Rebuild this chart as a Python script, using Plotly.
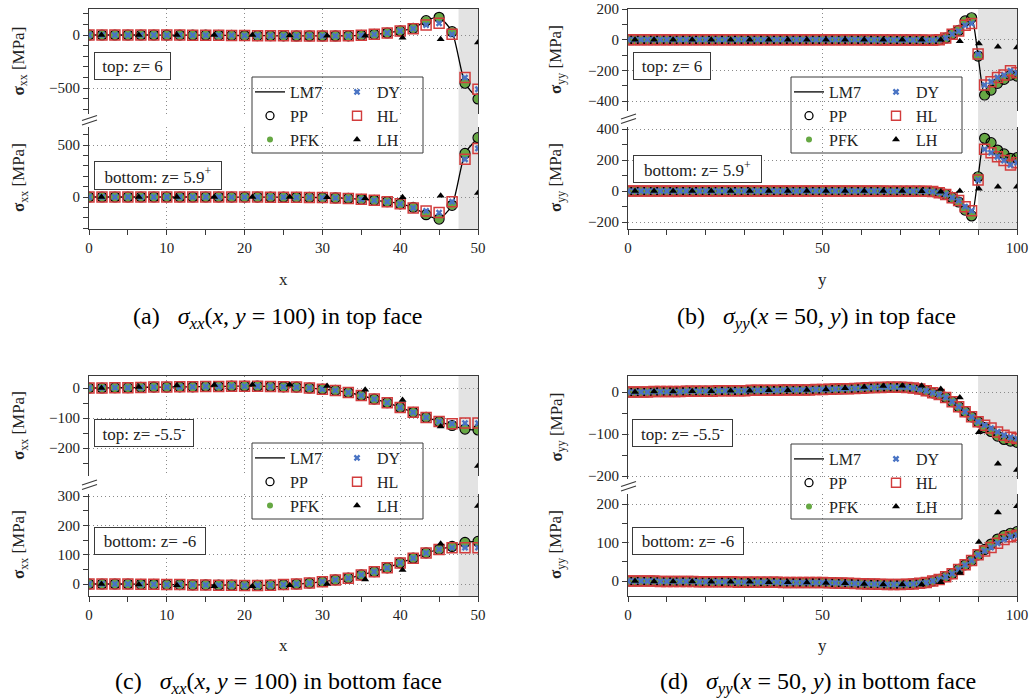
import plotly.graph_objects as go

W, H = 1036, 698
FONT = "Liberation Serif"

# ---------------- data ----------------
series_names = ["LM7", "PP", "PFK", "DY", "HL", "LH"]

x_ac = [0, 1.67, 3.33, 5, 6.67, 8.33, 10, 11.67, 13.33, 15, 16.67, 18.33, 20, 21.67, 23.33, 25,
        26.67, 28.33, 30, 31.67, 33.33, 35, 36.67, 38.33, 40, 41.67, 43.33, 45, 46.67, 48.33, 50]
x_bd = [0, 1.67, 3.33, 5, 6.67, 8.33, 10, 11.67, 13.33, 15, 16.67, 18.33, 20, 21.67, 23.33, 25,
        26.67, 28.33, 30, 31.67, 33.33, 35, 36.67, 38.33, 40, 41.67, 43.33, 45, 46.67, 48.33, 50,
        51.67, 53.33, 55, 56.67, 58.33, 60, 61.67, 63.33, 65, 66.67, 68.33, 70, 71.67, 73.33, 75,
        76.67, 78.33, 80, 81.67, 83.33, 85, 86.67, 88.33, 90, 91.67, 93.33, 95, 96.67, 98.33, 100]
x_lh_ac = [1.6, 6.4, 11.3, 16.1, 21.0, 25.8, 30.6, 35.5, 40.3, 45.2, 50.0]
x_lh_bd = [1.8, 6.7, 11.6, 16.5, 21.4, 26.4, 31.3, 36.2, 41.1, 46.0, 50.9, 55.8, 60.7, 65.6,
           70.5, 75.5, 80.4, 85.3, 90.2, 95.1, 100.0]

# (a) sigma_xx top face -- LM7 / PP / PFK coincide, DY / HL coincide
a_top_pp = [0, 0, 0, 0, 0, 0, -1, -1, -2, -2, -3, -4, -5, -6, -7, -8, -9, -9, -9, -9, -8, -3, 6, 19,
            38, 63, 135, 167, 31, -455, -603]
a_top_hl = [0, 0, 0, 0, 0, 0, -1, -1, -2, -2, -3, -4, -5, -6, -7, -8, -9, -9, -9, -9, -8, -3, 6, 19,
            38, 60, 94, 110, 6, -402, -512]
a_top_lh = [0, 0, 0, 0, 0, -5, -6, -6, -25, -41, -70]
a_bot_pp = [0, 0, 0, 0, 0, 0, 0, 0, 0, 0, 0, -1, -1, -1, -2, -2, -3, -4, -6, -9, -14, -22, -32, -45,
            -66, -100, -170, -212, -80, 419, 570]
a_bot_hl = [0, 0, 0, 0, 0, 0, 0, 0, 0, 0, 0, -1, -1, -1, -2, -2, -3, -4, -6, -9, -14, -22, -32, -45,
            -66, -105, -134, -150, -45, 362, 467]
a_bot_lh = [0, 0, 0, 0, 0, -1, -3, -12, -3, 13, 38]

# (b) sigma_yy top face
b_top_pp = [0, 0, 0, 0, 0, 0, 0, 0, 0, 0, 0, 0, 0, 0, 0, 0, 0, 0, 0, 0, 0, 0, 0, 0, 0, 0, 0, 0, 0, 0,
            0, 0, 0, 0, 0, 0, -1, -1, -1, -2, -2, -2, -2, -2, -2, -2, -3, -3, 0, 11, 36, 60, 122, 143,
            -107, -361, -329, -285, -259, -231, -238]
b_top_hl = [0, 0, 0, 0, 0, 0, 0, 0, 0, 0, 0, 0, 0, 0, 0, 0, 0, 0, 0, 0, 0, 0, 0, 0, 0, 0, 0, 0, 0, 0,
            0, 0, 0, 0, 0, 0, -1, -1, -1, -2, -2, -2, -2, -2, -2, -2, -3, -3, 0, 11, 36, 56, 94, 105,
            -94, -296, -274, -246, -231, -203, -216]
b_top_lh = [0, 0, 0, 0, 0, 0, 0, 0, 0, 0, 0, 0, 0, -1, -1, -1, 0, -10, -25, -47, -51]
b_bot_pp = [0, 0, 0, 0, 0, 0, 0, 0, 0, 0, 0, 0, 0, 0, 0, 0, 0, 0, 0, 0, 0, 0, 0, 0, 0, 0, 0, 0, 0, 0,
            0, 0, 0, 0, 0, 0, 0, 0, 0, 0, -1, -1, -1, -1, -1, -1, -2, -4, -11, -22, -43, -71, -123, -161,
            92, 340, 312, 264, 239, 211, 215]
b_bot_hl = [0, 0, 0, 0, 0, 0, 0, 0, 0, 0, 0, 0, 0, 0, 0, 0, 0, 0, 0, 0, 0, 0, 0, 0, 0, 0, 0, 0, 0, 0,
            0, 0, 0, 0, 0, 0, 0, 0, 0, 0, -1, -1, -1, -1, -1, -1, -2, -4, -11, -22, -43, -62, -101, -127,
            71, 269, 247, 221, 196, 168, 183]
b_bot_lh = [0, 0, 0, 0, 0, 0, 0, 0, 0, 0, 0, 0, 0, 0, 0, -1, -5, 0, 15, 27, 27]

# (c) sigma_xx bottom face
c_top_pp = [0, 0, 1, 1, 2, 3, 3, 4, 4, 5, 5, 6, 6, 6, 5, 4, 3, 0, -4, -8, -15, -25, -37, -49, -65,
            -81, -98, -112, -125, -137, -140]
c_top_hl = [0, 0, 1, 1, 2, 3, 3, 4, 4, 5, 5, 6, 6, 6, 5, 4, 3, 0, -4, -8, -15, -25, -37, -49, -65,
            -81, -98, -112, -119, -117, -117]
c_top_lh = [0, 3, 8, 10, 11, 11, 7, -6, -40, -128, -260]
c_bot_pp = [0, 0, 0, 0, -1, -1, -2, -2, -3, -3, -4, -4, -5, -5, -4, -2, 0, 3, 8, 14, 20, 31, 42, 55,
            72, 88, 106, 118, 128, 142, 145]
c_bot_hl = [0, 0, 0, 0, -1, -1, -2, -2, -3, -3, -4, -4, -5, -5, -4, -2, 0, 3, 8, 14, 20, 31, 42, 55,
            72, 88, 106, 118, 124, 124, 124]
c_bot_lh = [0, -2, -4, -8, -8, -4, 0, 15, 48, 137, 266]

# (d) sigma_yy bottom face
d_top_pp = [0, 0, 0, 0, 1, 1, 1, 1, 1, 2, 2, 2, 2, 2, 3, 3, 3, 3, 3, 4, 4, 4, 4, 4, 5, 5, 5, 5, 5, 6,
            6, 6.5, 7, 7.5, 8, 8.5, 9, 10, 10.5, 11, 11.5, 11.5, 11.5, 11, 9.5, 7, 3, -2, -6, -13, -23,
            -35, -47, -59, -71, -85, -94, -105, -113, -117, -120]
d_top_hl = [0, 0, 0, 0, 1, 1, 1, 1, 1, 2, 2, 2, 2, 2, 3, 3, 3, 3, 3, 4, 4, 4, 4, 4, 5, 5, 5, 5, 5, 6,
            6, 6.5, 7, 7.5, 8, 8.5, 9, 10, 10.5, 11, 11.5, 11.5, 11.5, 11, 9.5, 7, 3, -2, -6, -13, -23,
            -35, -47, -59, -71, -79, -86, -95, -103, -108, -111]
d_top_lh = [0, 1, 1, 2, 2, 3, 3, 4, 4, 5, 6, 9, 12, 14, 15, 15, 7, -13, -96, -171, -186]
d_bot_pp = [0, 0, 0, 0, 0, -1, -1, -1, -1, -1, -1, -2, -2, -2, -2, -2, -2, -3, -3, -3, -3, -3, -3, -3,
            -4, -4, -4, -4, -4, -4, -4, -4.5, -5, -5.5, -6, -6.5, -7, -7.5, -8, -8.5, -9, -9, -9, -8.5,
            -7.5, -6, -4, 0, 4, 11, 19, 30, 42, 53, 68, 82, 96, 109, 118, 124, 128]
d_bot_hl = [0, 0, 0, 0, 0, -1, -1, -1, -1, -1, -1, -2, -2, -2, -2, -2, -2, -3, -3, -3, -3, -3, -3, -3,
            -4, -4, -4, -4, -4, -4, -4, -4.5, -5, -5.5, -6, -6.5, -7, -7.5, -8, -8.5, -9, -9, -9, -8.5,
            -7.5, -6, -4, 0, 4, 11, 19, 30, 42, 53, 68, 78, 87, 98, 108, 115, 119]
d_bot_lh = [0, -1, -1, -1, -2, -2, -2, -3, -3, -4, -5, -6, -8, -9, -9, -9, -3, 21, 101, 178, 194]

SP = "&nbsp;"
captions = [
    f"(a){SP}{SP} <i>σ<sub>xx</sub></i>(<i>x</i>,{SP}<i>y</i>{SP}={SP}100) in top face",
    f"(b){SP}{SP} <i>σ<sub>yy</sub></i>(<i>x</i>{SP}={SP}50,{SP}<i>y</i>) in top face",
    f"(c){SP}{SP} <i>σ<sub>xx</sub></i>(<i>x</i>,{SP}<i>y</i>{SP}={SP}100) in bottom face",
    f"(d){SP}{SP} <i>σ<sub>yy</sub></i>(<i>x</i>{SP}={SP}50,{SP}<i>y</i>) in bottom face",
]
face_labels = [
    ("top: z= 6", "bottom: z= 5.9<sup>+</sup>"),
    ("top: z= 6", "bottom: z= 5.9<sup>+</sup>"),
    ("top: z= -5.5<sup>-</sup>", "bottom: z= -6"),
    ("top: z= -5.5<sup>-</sup>", "bottom: z= -6"),
]
y_titles = ["<b>σ</b><sub>xx</sub> [MPa]", "<b>σ</b><sub>yy</sub> [MPa]",
            "<b>σ</b><sub>xx</sub> [MPa]", "<b>σ</b><sub>yy</sub> [MPa]"]
x_titles = ["x", "y", "x", "y"]

panel_data = [
    (x_ac, x_lh_ac, (a_top_pp, a_top_hl, a_top_lh), (a_bot_pp, a_bot_hl, a_bot_lh)),
    (x_bd, x_lh_bd, (b_top_pp, b_top_hl, b_top_lh), (b_bot_pp, b_bot_hl, b_bot_lh)),
    (x_ac, x_lh_ac, (c_top_pp, c_top_hl, c_top_lh), (c_bot_pp, c_bot_hl, c_bot_lh)),
    (x_bd, x_lh_bd, (d_top_pp, d_top_hl, d_top_lh), (d_bot_pp, d_bot_hl, d_bot_lh)),
]

# ---------------- layout (pixel geometry) ----------------
panels = [
    dict(xpx=(89, 478), xr=(0, 50), xd=10, xm=5, shade=(47.5, 50),
         top=dict(dom=(9, 114), cal=((0, 35), (-500, 88)), d=500, m=100),
         bot=dict(dom=(127, 229), cal=((500, 145), (0, 197)), d=500, m=100),
         ytx=20, xty=279, leg=(252, 77, 423, 153),
         lab=((94, 52, 171, 80), (94, 161, 222, 190)), cap=(278, 318)),
    dict(xpx=(628, 1017), xr=(0, 100), xd=50, xm=10, shade=(90, 100),
         top=dict(dom=(9, 111), cal=((200, 9), (-400, 101)), d=200, m=100),
         bot=dict(dom=(127, 229), cal=((400, 129), (-200, 222)), d=200, m=100),
         ytx=557, xty=279, leg=(791, 77, 962, 153),
         lab=((633, 52, 711, 80), (633, 155, 762, 183)), cap=(816, 318)),
    dict(xpx=(89, 478), xr=(0, 50), xd=10, xm=5, shade=(47.5, 50),
         top=dict(dom=(376, 476), cal=((0, 388), (-200, 448)), d=100, m=50),
         bot=dict(dom=(494, 596), cal=((300, 496), (0, 584)), d=100, m=50),
         ytx=20, xty=645, leg=(252, 443, 423, 519),
         lab=((94, 419, 194, 447), (94, 527, 206, 555)), cap=(278, 683)),
    dict(xpx=(628, 1017), xr=(0, 100), xd=50, xm=10, shade=(90, 100),
         top=dict(dom=(376, 479), cal=((0, 392), (-200, 476)), d=100, m=50),
         bot=dict(dom=(494, 596), cal=((200, 504), (0, 581)), d=100, m=50),
         ytx=557, xty=645, leg=(791, 444, 962, 519),
         lab=((632, 419, 733, 447), (632, 527, 744, 555)), cap=(818, 683)),
]

GREEN = "#66a843"
BLUE = "#4a74c4"
RED = "#d23c3c"
AXC = "#3a3a3a"
GRIDC = "#8a8a8a"


def px(p):
    return p / W


def py(p):
    return 1 - p / H


def yrange(cal, dom):
    (v1, p1), (v2, p2) = cal
    k = (v1 - v2) / (p2 - p1)
    top, bot = dom
    return [v1 - (bot - p1) * k, v1 + (p1 - top) * k]


fig = go.Figure()
layout = dict(width=W, height=H, margin=dict(l=0, r=0, t=0, b=0, autoexpand=False), autosize=False,
              paper_bgcolor="white", plot_bgcolor="white", showlegend=True,
              font=dict(family=FONT, size=15, color="#222"))
shapes = []
annotations = []

tickfont = dict(family=FONT, size=15, color="#222")


def add_traces(xax, yax, xs, xlh, pp, hl, lh):
    common = dict(xaxis=xax, yaxis=yax, showlegend=False, hoverinfo="skip")
    fig.add_trace(go.Scatter(x=xs, y=pp, mode="lines", name="LM7",
                             line=dict(color="black", width=1.3, shape="spline", smoothing=0.6), **common))
    fig.add_trace(go.Scatter(x=xs, y=pp, mode="markers", name="PFK",
                             marker=dict(symbol="circle", size=9, color=GREEN, line=dict(width=0)), **common))
    fig.add_trace(go.Scatter(x=xs, y=pp, mode="markers", name="PP",
                             marker=dict(symbol="circle-open", size=10, color="black",
                                         line=dict(width=1.2, color="black")), **common))
    fig.add_trace(go.Scatter(x=xs, y=hl, mode="markers", name="HL",
                             marker=dict(symbol="square-open", size=10, color=RED,
                                         line=dict(width=1.5, color=RED)), **common))
    fig.add_trace(go.Scatter(x=xs, y=hl, mode="markers", name="DY",
                             marker=dict(symbol="x", size=6, color=BLUE, line=dict(width=0)), **common))
    fig.add_trace(go.Scatter(x=xlh, y=lh, mode="markers", name="LH",
                             marker=dict(symbol="triangle-up", size=7, color="black", line=dict(width=0)),
                             **common))


legend_styles = {
    "LM7": dict(mode="lines", line=dict(color="black", width=1.3)),
    "PP": dict(mode="markers", marker=dict(symbol="circle-open", size=8, color="black",
                                           line=dict(width=1.3, color="black"))),
    "PFK": dict(mode="markers", marker=dict(symbol="circle", size=6, color=GREEN)),
    "DY": dict(mode="markers", marker=dict(symbol="x", size=6, color=BLUE, line=dict(width=0))),
    "HL": dict(mode="markers", marker=dict(symbol="square-open", size=9, color=RED,
                                           line=dict(width=1.4, color=RED))),
    "LH": dict(mode="markers", marker=dict(symbol="triangle-up", size=7, color="black")),
}

for p, (pan, (xs, xlh, topd, botd)) in enumerate(zip(panels, panel_data)):
    it, ib = 2 * p + 1, 2 * p + 2
    xdom = [px(pan["xpx"][0]), px(pan["xpx"][1])]
    for i, sub, data, is_top in ((it, pan["top"], topd, True), (ib, pan["bot"], botd, False)):
        xk = "xaxis" if i == 1 else f"xaxis{i}"
        yk = "yaxis" if i == 1 else f"yaxis{i}"
        xa = "x" if i == 1 else f"x{i}"
        ya = "y" if i == 1 else f"y{i}"
        dom = sub["dom"]
        layout[xk] = dict(domain=xdom, anchor=ya, range=list(pan["xr"]), side="top" if is_top else "bottom",
                          showline=True, linecolor=AXC, linewidth=1, mirror=False,
                          showgrid=True, gridcolor=GRIDC, griddash="1px,3px", gridwidth=1,
                          zeroline=False, tickmode="linear", tick0=0, dtick=pan["xd"],
                          ticks="" if is_top else "outside", ticklen=5, tickcolor=AXC,
                          showticklabels=not is_top, tickfont=tickfont,
                          minor=dict(dtick=pan["xm"], tick0=0, ticks="" if is_top else "outside",
                                     ticklen=5, tickcolor=AXC, showgrid=False))
        layout[yk] = dict(domain=[py(dom[1]), py(dom[0])], anchor=xa, range=yrange(sub["cal"], dom),
                          showline=True, linecolor=AXC, linewidth=1, mirror=True,
                          showgrid=True, gridcolor=GRIDC, griddash="1px,3px", gridwidth=1,
                          zeroline=False, tickmode="linear", tick0=0, dtick=sub["d"],
                          ticks="outside", ticklen=5, tickcolor=AXC, tickfont=tickfont,
                          minor=dict(dtick=sub["m"], tick0=0, ticks="outside", ticklen=5,
                                     tickcolor=AXC, showgrid=False))
        pp, hl, lh = data
        add_traces(xa, ya, xs, xlh, pp, hl, lh)
        # y-axis title
        annotations.append(dict(text=y_titles[p], x=px(pan["ytx"]), y=py((dom[0] + dom[1]) / 2),
                                xref="paper", yref="paper", xanchor="center", yanchor="middle",
                                textangle=-90, showarrow=False,
                                font=dict(family=FONT, size=17, color="#222")))

    # shaded region across both sub-plots
    xb = "x" if ib == 1 else f"x{ib}"
    shapes.append(dict(type="rect", xref=xb, yref="paper", x0=pan["shade"][0], x1=pan["shade"][1],
                       y0=py(pan["bot"]["dom"][1]), y1=py(pan["top"]["dom"][0]),
                       fillcolor="#e3e3e3", line=dict(width=0), layer="below"))
    # axis break marks
    yc = (pan["top"]["dom"][1] + pan["bot"]["dom"][0]) / 2
    ax0 = pan["xpx"][0]
    for off in (-2.5, 2.0):
        shapes.append(dict(type="line", xref="paper", yref="paper",
                           x0=px(ax0 - 7), y0=py(yc + off + 2.5), x1=px(ax0 + 8), y1=py(yc + off - 2.5),
                           line=dict(color=AXC, width=1.1), layer="above"))
    # legend frame
    lx0, ly0, lx1, ly1 = pan["leg"]
    shapes.append(dict(type="rect", xref="paper", yref="paper", x0=px(lx0), x1=px(lx1),
                       y0=py(ly1), y1=py(ly0), line=dict(color=AXC, width=1), layer="above"))
    # legends: two columns
    for c, names in enumerate((("LM7", "PP", "PFK"), ("DY", "HL", "LH"))):
        li = 2 * p + c + 1
        lname = "legend" if li == 1 else f"legend{li}"
        lx = lx0 - 2 if c == 0 else lx0 + 85
        layout[lname] = dict(x=px(lx), y=py(ly0 - 2), xanchor="left", yanchor="top",
                             bgcolor="rgba(0,0,0,0)", borderwidth=0, tracegroupgap=0,
                             font=dict(family=FONT, size=16, color="#222"), itemclick=False,
                             itemdoubleclick=False)
        for nm in names:
            fig.add_trace(go.Scatter(x=[None], y=[None], name=nm, legend=lname, showlegend=True,
                                     xaxis="x" if it == 1 else f"x{it}",
                                     yaxis="y" if it == 1 else f"y{it}", **legend_styles[nm]))
    # face labels
    for (bx0, by0, bx1, by1), txt in zip(pan["lab"], face_labels[p]):
        annotations.append(dict(text=txt, x=px(bx0), y=py((by0 + by1) / 2), xref="paper", yref="paper",
                                xanchor="left", yanchor="middle", showarrow=False,
                                width=bx1 - bx0 - 2, height=by1 - by0 - 2, align="center",
                                bordercolor=AXC, borderwidth=1, borderpad=0, bgcolor="white",
                                font=dict(family=FONT, size=17, color="#222")))
    # x title
    annotations.append(dict(text=x_titles[p], x=px((pan["xpx"][0] + pan["xpx"][1]) / 2), y=py(pan["xty"]),
                            xref="paper", yref="paper", xanchor="center", yanchor="middle",
                            showarrow=False, font=dict(family=FONT, size=17, color="#222")))
    # caption
    annotations.append(dict(text=captions[p], x=px(pan["cap"][0]), y=py(pan["cap"][1]),
                            xref="paper", yref="paper", xanchor="center", yanchor="middle",
                            showarrow=False, font=dict(family=FONT, size=24, color="black")))

layout["shapes"] = shapes
layout["annotations"] = annotations
fig.update_layout(**layout)
fig.write_html("out.html", config={"displayModeBar": False, "staticPlot": True},
               post_script="document.body.style.margin='0';document.body.style.overflow='hidden';")
